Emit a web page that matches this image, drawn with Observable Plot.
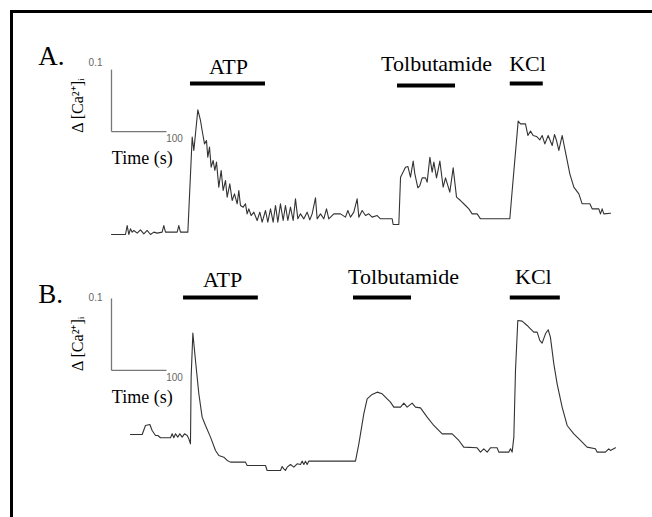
<!DOCTYPE html>
<html>
<head>
<meta charset="utf-8">
<script src="https://cdn.jsdelivr.net/npm/d3@7"></script>
<script src="https://cdn.jsdelivr.net/npm/@observablehq/plot@0.6"></script>
<style>
  html, body { margin: 0; padding: 0; background: #fff; }
  #fig { position: relative; width: 652px; height: 517px; overflow: hidden; background: #fff; }
  #frame { position: absolute; left: 10px; top: 10px; width: 700px; height: 600px;
           border-top: 3px solid #000; border-left: 3px solid #000; }
  .panel { position: absolute; left: 0; }
  .panel svg { overflow: visible; display: block; }
</style>
</head>
<body>
<div id="fig"><div id="frame"></div></div>
<script>
// ---- Trace A: time (s) and Δ[Ca2+]i ----
const tA = [0,25.5,28.5,31.5,34.5,37.6,40.6,46.7,52.7,58.8,64.8,70.9,77,83,92.1,95.1,98.2,119.4,122.4,125.4,138.8,
  146.7,149.7,152.7,157,161.8,164.8,169.1,172.7,175.1,178.2,181.2,184.8,187.9,190.9,195.1,199.4,203,207.3,210.3,215.1,
  219.4,223.6,228.5,231.5,234.5,239.4,243.6,246.6,249.7,253.9,258.8,264.8,269.7,273.9,280,284.2,289.1,293.9,298.2,302.4,
  307.2,312.1,316.3,320.6,325.4,330.3,334.5,338.8,343.6,349.7,355.7,360.6,364.8,370.9,373.9,380,386,390.9,395.1,404.2,
  416.3,425.4,429.7,434.5,440.6,446.6,449.7,455.7,461.8,467.8,473.9,483,489,510.3,512.1,522.4,525.5,534.5,538.8,543.6,
  548.5,551.5,557,560.6,564.9,570.9,573.9,578.8,583,586.1,590.9,597,603,607.3,615.1,621.2,627.3,634.5,643.6,649.7,655.7,
  664.8,670.9,724.2,728.5,739.4,743.6,752.7,757,761.8,766.6,772.7,778.8,783,787.9,793.9,801.2,805.4,809.1,813.3,819.4,
  825.4,833.3,840.6,849.7,855.7,869.7,873.9,886,889,892.1,895.1,907.2];
const vA = [0,0,0.0145,0,0.0091,0.0038,0.0065,0.0022,0.0075,0.0011,0.0065,0,0.0038,0.0022,0.0038,0.0145,0.0038,0.0038,0.0145,0.0038,0.0038,
  0.157,0.1355,0.1624,0.2011,0.1839,0.1677,0.1462,0.1516,0.1247,0.1409,0.1086,0.1194,0.1032,0.1167,0.0763,0.1032,0.0710,0.0871,0.0602,0.0817,
  0.0548,0.0656,0.0495,0.0710,0.0468,0.0441,0.0495,0.0333,0.0414,0.0306,0.0360,0.0226,0.0360,0.0199,0.0387,0.0199,0.0414,0.0199,0.0468,0.0199,
  0.0495,0.0226,0.0468,0.0226,0.0441,0.0226,0.0575,0.0253,0.0333,0.0253,0.0360,0.0237,0.0333,0.0591,0.0253,0.0333,0.0253,0.0414,0.0253,0.0333,
  0.0333,0.0280,0.0387,0.0280,0.0360,0.0575,0.0280,0.0387,0.0306,0.0333,0.0280,0.0306,0.0253,0.0253,0.0161,0.0161,0.0925,0.1086,0.1097,0.0925,
  0.1183,0.0978,0.0753,0.0790,0.0914,0.0914,0.0844,0.1247,0.1005,0.1167,0.0914,0.1183,0.0763,0.0914,0.0683,0.1075,0.0602,0.0548,0.0468,0.0414,0.0333,
  0.0333,0.0253,0.0253,0.0710,0.1828,0.1785,0.1785,0.1597,0.1667,0.1597,0.1581,0.1527,0.1597,0.1462,0.1597,0.1435,0.1613,0.1516,0.1355,0.1597,
  0.1328,0.0978,0.0763,0.0656,0.0495,0.0495,0.0414,0.0414,0.0333,0.0414,0.0333,0.0344];

// ---- Trace B ----
const tB = [34.5,55.8,61.8,69.7,73.9,80,84.2,89.1,107.3,110.3,113.3,116.4,120.6,124.2,128.5,132.7,137.6,140.6,143.6,144.8,
  147.9,152.7,158.8,164.8,170.9,180,189.1,195.1,204.2,210.3,216.3,243.6,246.6,280,283,307.2,310.3,313.3,316.3,319.4,
  325.4,331.5,337.5,343.6,346.6,349.7,352.7,355.7,358.8,364.8,443.6,449.7,458.7,464.8,473.9,483,492.1,501.2,507.2,513.3,
  525.4,531.5,537.5,546.6,552.7,561.8,573.9,586,601.2,619.3,631.5,640.5,664.8,670.8,676.9,683,689,701.1,704.2,722.4,
  725.4,728.4,731.5,734.5,738.7,746.6,755.7,761.7,767.8,773.9,778.7,782.9,789,793.9,798,804.2,810.2,819.3,828.4,840.5,
  852.6,864.7,879.8,882.8,898,904,907.1,916.3];
const vB = [0,0,0.0125,0.0139,0.0056,-0.0014,-0.0014,-0.0046,-0.0046,0.0009,-0.0046,0.0009,-0.0037,0.0009,-0.0037,0.0009,-0.0014,-0.006,-0.013,0.0796,
  0.1407,0.1028,0.0565,0.0241,0.0125,-0.0037,-0.0222,-0.0292,-0.0315,-0.0361,-0.0384,-0.0384,-0.0431,-0.0431,-0.05,-0.05,-0.0444,-0.0477,-0.05,-0.0454,
  -0.0417,-0.0454,-0.0407,-0.0417,-0.037,-0.0417,-0.037,-0.0417,-0.037,-0.037,-0.037,-0.013,0.0287,0.0495,0.0556,0.0588,0.0565,0.0495,0.0449,0.0380,
  0.0380,0.0435,0.0380,0.0435,0.0380,0.0370,0.0241,0.0125,0.0009,0.0009,-0.0083,-0.0176,-0.0185,-0.0245,-0.0199,-0.0245,-0.0185,-0.0185,-0.0245,-0.0245,
  -0.0199,-0.0245,-0.0037,0.0889,0.1583,0.1574,0.1514,0.1468,0.1421,0.1421,0.1306,0.1269,0.1398,0.1454,0.1352,0.0981,0.0704,0.0380,0.0125,0.0009,
  -0.0083,-0.0176,-0.0199,-0.0245,-0.0245,-0.0199,-0.0222,-0.0185];

// ---- Drug application periods (s) ----
const drugs = ["ATP", "Tolbutamide", "KCl"];
const drugStartA = [143.6, 520, 725];
const drugEndA   = [280, 625.5, 785];
const drugStartB = [131, 440, 725];
const drugEndB   = [267, 545.5, 816];

// ---- Scale bar ----
const scaleTime = 100;   // s
const scaleCa = 0.1;     // Δ[Ca2+]i
const panelLabels = ["A.", "B."];
const yLabel = "Δ [Ca²⁺]ᵢ";
const xLabel = "Time (s)";

// layout per panel (data units)
const panels = [
  { label: panelLabels[0], top: 0, height: 258, yDomain: [-0.0387, 0.3774],
    t: tA, v: vA, start: drugStartA, end: drugEndA,
    barY: [0.2435, 0.2403, 0.2435], textY: [0.271, 0.2758, 0.2758], textX: [212.7, 591, 756.4],
    sbY0: 0.166, labelY: 0.287, zeroY: 0.277, hundredY: 0.155, timeY: 0.1226, caY: 0.208 },
  { label: panelLabels[1], top: 258, height: 259, yDomain: [-0.1153, 0.2444],
    t: tB, v: vB, start: drugStartB, end: drugEndB,
    barY: [0.1903, 0.1903, 0.1903], textY: [0.214, 0.219, 0.219], textX: [202, 531, 767],
    sbY0: 0.0889, labelY: 0.194, zeroY: 0.190, hundredY: 0.079, timeY: 0.0514, caY: 0.126 }
];

const serif = "'Liberation Serif', 'Times New Roman', serif";
const sans = "'Liberation Sans', Arial, sans-serif";
const fig = document.getElementById("fig");

for (const p of panels) {
  const trace = p.t.map((t, i) => ({t, v: p.v[i]}));
  const bars = drugs.map((d, i) => ({name: d, x1: p.start[i], x2: p.end[i], y: p.barY[i], tx: p.textX[i], ty: p.textY[i]}));
  const sb = [
    {x1: 0, y1: p.sbY0, x2: 0, y2: p.sbY0 + scaleCa},
    {x1: 0, y1: p.sbY0, x2: scaleTime, y2: p.sbY0}
  ];
  const chart = Plot.plot({
    width: 652, height: p.height, margin: 0,
    x: {domain: [-201.8, 983.6], range: [0, 652], axis: null},
    y: {domain: p.yDomain, range: [p.height, 0], axis: null},
    marks: [
      Plot.link(sb, {x1: "x1", y1: "y1", x2: "x2", y2: "y2", stroke: "#777", strokeWidth: 1.3}),
      Plot.line(trace, {x: "t", y: "v", stroke: "#333", strokeWidth: 1.1}),
      Plot.ruleY(bars, {y: "y", x1: "x1", x2: "x2", stroke: "#000", strokeWidth: 4}),
      Plot.text(bars, {x: "tx", y: "ty", text: "name", fontFamily: serif, fontSize: 22, fill: "#000"}),
      Plot.text([p.label], {x: -133, y: p.labelY, text: d => d, textAnchor: "start", fontFamily: serif, fontSize: 27, fill: "#000"}),
      Plot.text(["0.1"], {x: -29, y: p.zeroY, text: d => d, fontFamily: sans, fontSize: 10, fill: "#666"}),
      Plot.text(["100"], {x: 114.5, y: p.hundredY, text: d => d, fontFamily: sans, fontSize: 10, fill: "#666"}),
      Plot.text([xLabel], {x: 56, y: p.timeY, text: d => d, fontFamily: serif, fontSize: 18, fill: "#000"}),
      Plot.text([yLabel], {x: -62, y: p.caY, text: d => d, rotate: -90, fontFamily: serif, fontSize: 16, fill: "#000"})
    ]
  });
  const wrap = document.createElement("div");
  wrap.className = "panel";
  wrap.style.top = p.top + "px";
  wrap.appendChild(chart);
  fig.appendChild(wrap);
}
</script>
</body>
</html>
